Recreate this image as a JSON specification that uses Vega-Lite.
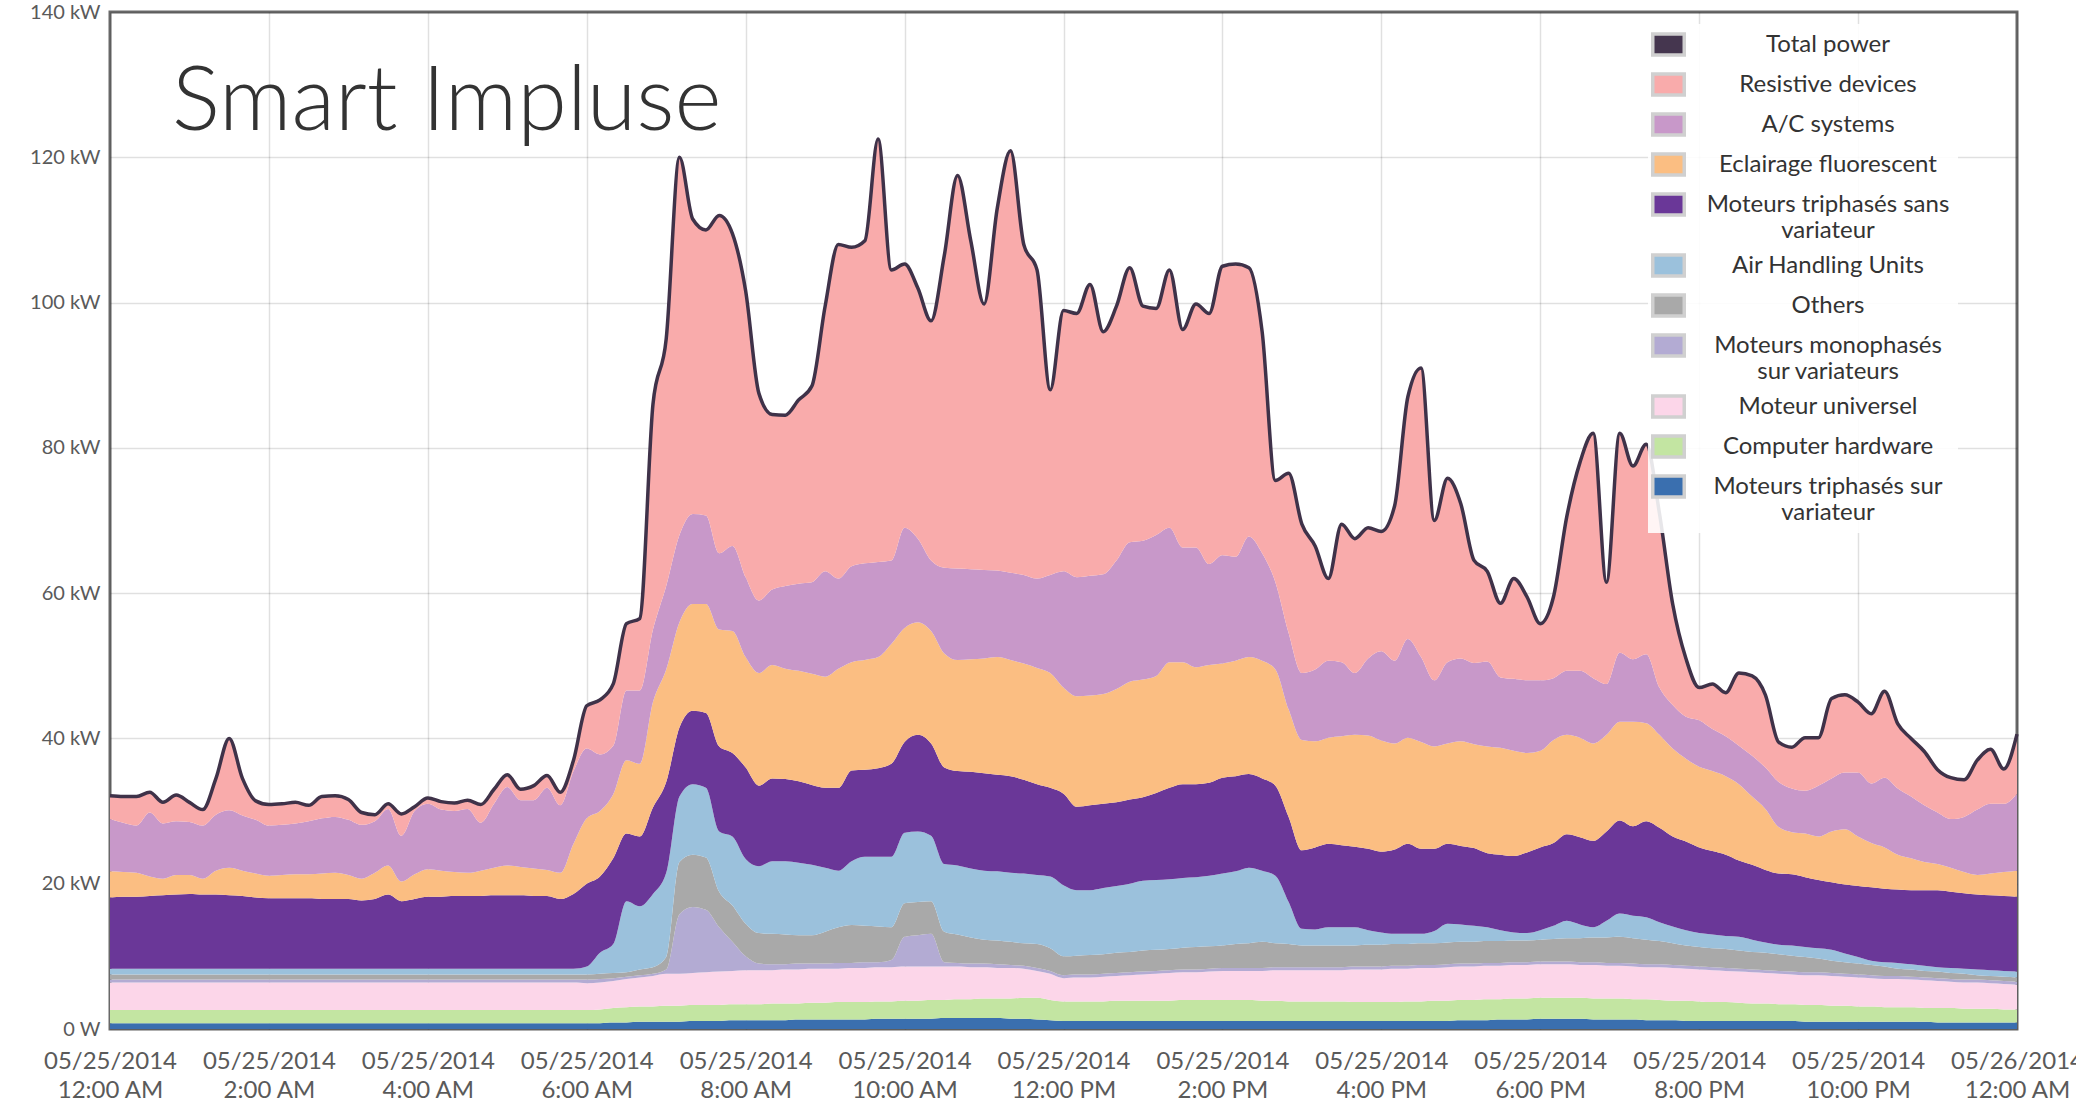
{
  "$schema": "https://vega.github.io/schema/vega-lite/v6.json",
  "width": 1907,
  "height": 1017,
  "autosize": {"type": "none"},
  "padding": {"left": 110, "top": 12, "right": 59, "bottom": 77},
  "background": "white",
  "title": {"text": "Smart Impluse", "anchor": "start", "frame": "group", "offset": 0, "baseline": "alphabetic", "dx": 62, "dy": 218, "fontSize": 90, "font": "Lato", "fontWeight": 300, "color": "#333333"},
  "datasets": {
    "series": [
      {"series": "tv", "rank": 1, "name": "Moteurs triphasés sur variateur"},
      {"series": "ch", "rank": 2, "name": "Computer hardware"},
      {"series": "mu", "rank": 3, "name": "Moteur universel"},
      {"series": "mm", "rank": 4, "name": "Moteurs monophasés sur variateurs"},
      {"series": "ot", "rank": 5, "name": "Others"},
      {"series": "ahu", "rank": 6, "name": "Air Handling Units"},
      {"series": "ts", "rank": 7, "name": "Moteurs triphasés sans variateur"},
      {"series": "ef", "rank": 8, "name": "Eclairage fluorescent"},
      {"series": "ac", "rank": 9, "name": "A/C systems"},
      {"series": "rd", "rank": 10, "name": "Resistive devices"}
    ]
  },
  "data": {"values": [
{"t":"2014-05-25T00:00","tv":0.8,"ch":1.8,"mu":3.8,"mm":0.4,"ot":0.7,"ahu":0.8,"ts":9.8,"ef":3.6,"ac":7.2,"rd":3.2,"total":32.1},
{"t":"2014-05-25T00:10","tv":0.8,"ch":1.8,"mu":3.8,"mm":0.4,"ot":0.7,"ahu":0.8,"ts":9.9,"ef":3.4,"ac":6.8,"rd":3.6,"total":32.0},
{"t":"2014-05-25T00:20","tv":0.8,"ch":1.8,"mu":3.8,"mm":0.4,"ot":0.7,"ahu":0.8,"ts":9.9,"ef":3.3,"ac":6.5,"rd":4.0,"total":32.0},
{"t":"2014-05-25T00:30","tv":0.8,"ch":1.8,"mu":3.8,"mm":0.4,"ot":0.7,"ahu":0.8,"ts":10.0,"ef":2.7,"ac":8.8,"rd":2.8,"total":32.6},
{"t":"2014-05-25T00:40","tv":0.8,"ch":1.8,"mu":3.8,"mm":0.4,"ot":0.7,"ahu":0.8,"ts":10.1,"ef":2.3,"ac":7.6,"rd":2.9,"total":31.2},
{"t":"2014-05-25T00:50","tv":0.8,"ch":1.8,"mu":3.8,"mm":0.4,"ot":0.7,"ahu":0.8,"ts":10.2,"ef":2.7,"ac":7.4,"rd":3.6,"total":32.2},
{"t":"2014-05-25T01:00","tv":0.8,"ch":1.8,"mu":3.8,"mm":0.4,"ot":0.7,"ahu":0.8,"ts":10.3,"ef":2.6,"ac":7.3,"rd":2.7,"total":31.2},
{"t":"2014-05-25T01:10","tv":0.8,"ch":1.8,"mu":3.8,"mm":0.4,"ot":0.7,"ahu":0.8,"ts":10.2,"ef":2.2,"ac":7.3,"rd":2.2,"total":30.2},
{"t":"2014-05-25T01:20","tv":0.8,"ch":1.8,"mu":3.8,"mm":0.4,"ot":0.7,"ahu":0.8,"ts":10.2,"ef":3.3,"ac":7.7,"rd":5.0,"total":34.5},
{"t":"2014-05-25T01:30","tv":0.8,"ch":1.8,"mu":3.8,"mm":0.4,"ot":0.7,"ahu":0.8,"ts":10.1,"ef":3.8,"ac":7.9,"rd":9.9,"total":40.0},
{"t":"2014-05-25T01:40","tv":0.8,"ch":1.8,"mu":3.8,"mm":0.4,"ot":0.7,"ahu":0.8,"ts":10.0,"ef":3.5,"ac":7.6,"rd":5.1,"total":34.5},
{"t":"2014-05-25T01:50","tv":0.8,"ch":1.8,"mu":3.8,"mm":0.4,"ot":0.7,"ahu":0.8,"ts":9.8,"ef":3.3,"ac":7.4,"rd":2.6,"total":31.4},
{"t":"2014-05-25T02:00","tv":0.8,"ch":1.8,"mu":3.8,"mm":0.4,"ot":0.7,"ahu":0.8,"ts":9.7,"ef":3.1,"ac":6.9,"rd":2.9,"total":30.9},
{"t":"2014-05-25T02:10","tv":0.8,"ch":1.8,"mu":3.8,"mm":0.4,"ot":0.7,"ahu":0.8,"ts":9.7,"ef":3.2,"ac":6.9,"rd":2.9,"total":31.0},
{"t":"2014-05-25T02:20","tv":0.8,"ch":1.8,"mu":3.8,"mm":0.4,"ot":0.7,"ahu":0.8,"ts":9.7,"ef":3.3,"ac":7.0,"rd":2.9,"total":31.2},
{"t":"2014-05-25T02:30","tv":0.8,"ch":1.8,"mu":3.8,"mm":0.4,"ot":0.7,"ahu":0.8,"ts":9.7,"ef":3.3,"ac":7.3,"rd":2.2,"total":30.8},
{"t":"2014-05-25T02:40","tv":0.8,"ch":1.8,"mu":3.8,"mm":0.4,"ot":0.7,"ahu":0.8,"ts":9.6,"ef":3.5,"ac":7.6,"rd":3.0,"total":32.0},
{"t":"2014-05-25T02:50","tv":0.8,"ch":1.8,"mu":3.8,"mm":0.4,"ot":0.7,"ahu":0.8,"ts":9.6,"ef":3.6,"ac":7.7,"rd":2.9,"total":32.1},
{"t":"2014-05-25T03:00","tv":0.8,"ch":1.8,"mu":3.8,"mm":0.4,"ot":0.7,"ahu":0.8,"ts":9.6,"ef":3.3,"ac":7.6,"rd":2.8,"total":31.6},
{"t":"2014-05-25T03:10","tv":0.8,"ch":1.8,"mu":3.8,"mm":0.4,"ot":0.7,"ahu":0.8,"ts":9.4,"ef":3.0,"ac":7.4,"rd":1.7,"total":29.8},
{"t":"2014-05-25T03:20","tv":0.8,"ch":1.8,"mu":3.8,"mm":0.4,"ot":0.7,"ahu":0.8,"ts":9.6,"ef":3.6,"ac":7.1,"rd":0.9,"total":29.5},
{"t":"2014-05-25T03:30","tv":0.8,"ch":1.8,"mu":3.8,"mm":0.4,"ot":0.7,"ahu":0.8,"ts":10.2,"ef":4.0,"ac":7.8,"rd":0.7,"total":31.0},
{"t":"2014-05-25T03:40","tv":0.8,"ch":1.8,"mu":3.8,"mm":0.4,"ot":0.7,"ahu":0.8,"ts":9.3,"ef":2.7,"ac":6.3,"rd":3.0,"total":29.6},
{"t":"2014-05-25T03:50","tv":0.8,"ch":1.8,"mu":3.8,"mm":0.4,"ot":0.7,"ahu":0.8,"ts":9.6,"ef":3.4,"ac":8.7,"rd":0.6,"total":30.6},
{"t":"2014-05-25T04:00","tv":0.8,"ch":1.8,"mu":3.8,"mm":0.4,"ot":0.7,"ahu":0.8,"ts":9.9,"ef":3.8,"ac":9.0,"rd":0.8,"total":31.8},
{"t":"2014-05-25T04:10","tv":0.8,"ch":1.8,"mu":3.8,"mm":0.4,"ot":0.7,"ahu":0.8,"ts":9.9,"ef":3.6,"ac":8.4,"rd":1.1,"total":31.3},
{"t":"2014-05-25T04:20","tv":0.8,"ch":1.8,"mu":3.8,"mm":0.4,"ot":0.7,"ahu":0.8,"ts":10.0,"ef":3.3,"ac":8.4,"rd":1.1,"total":31.1},
{"t":"2014-05-25T04:30","tv":0.8,"ch":1.8,"mu":3.8,"mm":0.4,"ot":0.7,"ahu":0.8,"ts":10.0,"ef":3.2,"ac":8.8,"rd":1.2,"total":31.5},
{"t":"2014-05-25T04:40","tv":0.8,"ch":1.8,"mu":3.8,"mm":0.4,"ot":0.7,"ahu":0.8,"ts":10.0,"ef":3.5,"ac":6.6,"rd":2.5,"total":30.9},
{"t":"2014-05-25T04:50","tv":0.8,"ch":1.8,"mu":3.8,"mm":0.4,"ot":0.7,"ahu":0.8,"ts":10.1,"ef":3.8,"ac":8.8,"rd":2.0,"total":33.0},
{"t":"2014-05-25T05:00","tv":0.8,"ch":1.8,"mu":3.8,"mm":0.4,"ot":0.7,"ahu":0.8,"ts":10.1,"ef":4.1,"ac":10.8,"rd":1.7,"total":35.0},
{"t":"2014-05-25T05:10","tv":0.8,"ch":1.8,"mu":3.8,"mm":0.4,"ot":0.7,"ahu":0.8,"ts":10.1,"ef":3.9,"ac":9.2,"rd":1.5,"total":33.0},
{"t":"2014-05-25T05:20","tv":0.8,"ch":1.8,"mu":3.8,"mm":0.4,"ot":0.7,"ahu":0.8,"ts":10.0,"ef":3.8,"ac":9.4,"rd":2.0,"total":33.5},
{"t":"2014-05-25T05:30","tv":0.8,"ch":1.8,"mu":3.8,"mm":0.4,"ot":0.7,"ahu":0.8,"ts":10.0,"ef":3.6,"ac":11.3,"rd":1.7,"total":34.9},
{"t":"2014-05-25T05:40","tv":0.8,"ch":1.8,"mu":3.8,"mm":0.4,"ot":0.7,"ahu":0.8,"ts":9.6,"ef":3.6,"ac":9.3,"rd":1.8,"total":32.6},
{"t":"2014-05-25T05:50","tv":0.8,"ch":1.8,"mu":3.8,"mm":0.4,"ot":0.7,"ahu":0.8,"ts":10.3,"ef":6.9,"ac":10.0,"rd":1.5,"total":37.0},
{"t":"2014-05-25T06:00","tv":0.8,"ch":1.8,"mu":3.7,"mm":0.5,"ot":0.7,"ahu":1.1,"ts":11.4,"ef":9.0,"ac":9.6,"rd":5.9,"total":44.5},
{"t":"2014-05-25T06:10","tv":0.8,"ch":1.9,"mu":3.7,"mm":0.5,"ot":0.7,"ahu":2.9,"ts":10.5,"ef":9.0,"ac":7.8,"rd":7.5,"total":45.3},
{"t":"2014-05-25T06:20","tv":0.9,"ch":2.0,"mu":3.7,"mm":0.4,"ot":0.7,"ahu":4.0,"ts":11.8,"ef":8.8,"ac":6.7,"rd":8.5,"total":47.5},
{"t":"2014-05-25T06:30","tv":0.9,"ch":2.1,"mu":3.9,"mm":0.3,"ot":0.6,"ahu":9.8,"ts":9.3,"ef":10.1,"ac":9.6,"rd":9.2,"total":55.8},
{"t":"2014-05-25T06:40","tv":1.0,"ch":2.1,"mu":4.0,"mm":0.3,"ot":0.8,"ahu":8.7,"ts":9.6,"ef":10.0,"ac":10.1,"rd":9.9,"total":56.5},
{"t":"2014-05-25T06:50","tv":1.0,"ch":2.1,"mu":4.2,"mm":0.3,"ot":0.9,"ahu":10.1,"ts":11.9,"ef":14.5,"ac":10.0,"rd":31.0,"total":86.0},
{"t":"2014-05-25T07:00","tv":1.0,"ch":2.2,"mu":4.4,"mm":0.6,"ot":1.7,"ahu":11.6,"ts":12.5,"ef":15.5,"ac":11.5,"rd":34.0,"total":95.0},
{"t":"2014-05-25T07:10","tv":1.0,"ch":2.2,"mu":4.4,"mm":8.2,"ot":7.2,"ahu":9.0,"ts":9.5,"ef":14.5,"ac":12.0,"rd":52.0,"total":120.0},
{"t":"2014-05-25T07:20","tv":1.1,"ch":2.2,"mu":4.4,"mm":9.1,"ot":7.2,"ahu":9.7,"ts":10.1,"ef":14.7,"ac":12.4,"rd":40.6,"total":111.5},
{"t":"2014-05-25T07:30","tv":1.1,"ch":2.2,"mu":4.5,"mm":8.6,"ot":7.2,"ahu":9.6,"ts":10.3,"ef":15.0,"ac":12.2,"rd":39.3,"total":110.0},
{"t":"2014-05-25T07:40","tv":1.1,"ch":2.2,"mu":4.6,"mm":6.1,"ot":4.9,"ahu":8.3,"ts":11.7,"ef":16.1,"ac":10.5,"rd":46.5,"total":112.0},
{"t":"2014-05-25T07:50","tv":1.2,"ch":2.2,"mu":4.6,"mm":4.0,"ot":5.0,"ahu":9.5,"ts":11.5,"ef":16.8,"ac":11.7,"rd":43.0,"total":109.5},
{"t":"2014-05-25T08:00","tv":1.2,"ch":2.2,"mu":4.7,"mm":1.9,"ot":4.5,"ahu":8.9,"ts":12.6,"ef":15.2,"ac":11.0,"rd":39.4,"total":101.6},
{"t":"2014-05-25T08:10","tv":1.2,"ch":2.2,"mu":4.7,"mm":0.9,"ot":4.2,"ahu":9.2,"ts":11.1,"ef":15.5,"ac":10.0,"rd":28.5,"total":87.5},
{"t":"2014-05-25T08:20","tv":1.2,"ch":2.3,"mu":4.6,"mm":0.8,"ot":4.2,"ahu":10.0,"ts":11.4,"ef":15.6,"ac":10.4,"rd":24.1,"total":84.6},
{"t":"2014-05-25T08:30","tv":1.2,"ch":2.3,"mu":4.7,"mm":0.7,"ot":4.1,"ahu":10.1,"ts":11.3,"ef":15.2,"ac":11.4,"rd":23.5,"total":84.5},
{"t":"2014-05-25T08:40","tv":1.3,"ch":2.2,"mu":4.7,"mm":0.8,"ot":3.9,"ahu":10.0,"ts":11.2,"ef":15.2,"ac":12.0,"rd":25.3,"total":86.6},
{"t":"2014-05-25T08:50","tv":1.3,"ch":2.3,"mu":4.7,"mm":0.7,"ot":3.9,"ahu":9.7,"ts":11.0,"ef":15.3,"ac":12.6,"rd":27.0,"total":88.5},
{"t":"2014-05-25T09:00","tv":1.3,"ch":2.3,"mu":4.7,"mm":0.7,"ot":4.4,"ahu":8.8,"ts":11.0,"ef":15.3,"ac":14.5,"rd":36.5,"total":99.5},
{"t":"2014-05-25T09:10","tv":1.3,"ch":2.4,"mu":4.6,"mm":0.8,"ot":4.9,"ahu":7.8,"ts":11.4,"ef":16.4,"ac":12.4,"rd":46.0,"total":108.0},
{"t":"2014-05-25T09:20","tv":1.3,"ch":2.4,"mu":4.7,"mm":0.7,"ot":5.2,"ahu":8.8,"ts":12.5,"ef":14.9,"ac":13.2,"rd":43.9,"total":107.6},
{"t":"2014-05-25T09:30","tv":1.3,"ch":2.4,"mu":4.7,"mm":0.8,"ot":5.0,"ahu":9.5,"ts":12.0,"ef":15.1,"ac":13.3,"rd":44.4,"total":108.5},
{"t":"2014-05-25T09:40","tv":1.4,"ch":2.4,"mu":4.7,"mm":0.7,"ot":4.9,"ahu":9.6,"ts":12.2,"ef":15.3,"ac":13.1,"rd":58.2,"total":122.5},
{"t":"2014-05-25T09:50","tv":1.4,"ch":2.4,"mu":4.7,"mm":1.0,"ot":4.5,"ahu":9.7,"ts":12.8,"ef":16.5,"ac":11.5,"rd":40.0,"total":104.5},
{"t":"2014-05-25T10:00","tv":1.4,"ch":2.5,"mu":4.7,"mm":4.1,"ot":4.6,"ahu":9.7,"ts":12.5,"ef":15.7,"ac":13.8,"rd":36.3,"total":105.3},
{"t":"2014-05-25T10:10","tv":1.4,"ch":2.5,"mu":4.7,"mm":4.3,"ot":4.6,"ahu":9.7,"ts":13.3,"ef":15.5,"ac":11.5,"rd":34.5,"total":102.0},
{"t":"2014-05-25T10:20","tv":1.4,"ch":2.6,"mu":4.6,"mm":4.5,"ot":4.5,"ahu":9.0,"ts":12.7,"ef":15.5,"ac":9.7,"rd":33.0,"total":97.5},
{"t":"2014-05-25T10:30","tv":1.5,"ch":2.5,"mu":4.6,"mm":0.6,"ot":4.2,"ahu":9.3,"ts":13.3,"ef":15.7,"ac":11.8,"rd":43.0,"total":106.5},
{"t":"2014-05-25T10:40","tv":1.5,"ch":2.6,"mu":4.5,"mm":0.5,"ot":3.9,"ahu":9.5,"ts":13.0,"ef":15.3,"ac":12.6,"rd":54.1,"total":117.5},
{"t":"2014-05-25T10:50","tv":1.5,"ch":2.6,"mu":4.4,"mm":0.5,"ot":3.6,"ahu":9.5,"ts":13.3,"ef":15.5,"ac":12.4,"rd":45.2,"total":108.5},
{"t":"2014-05-25T11:00","tv":1.5,"ch":2.7,"mu":4.3,"mm":0.5,"ot":3.3,"ahu":9.5,"ts":13.4,"ef":15.8,"ac":12.2,"rd":36.6,"total":99.8},
{"t":"2014-05-25T11:10","tv":1.5,"ch":2.7,"mu":4.2,"mm":0.5,"ot":3.3,"ahu":9.5,"ts":13.3,"ef":16.2,"ac":11.9,"rd":49.9,"total":113.0},
{"t":"2014-05-25T11:20","tv":1.4,"ch":2.8,"mu":4.2,"mm":0.4,"ot":3.2,"ahu":9.5,"ts":13.3,"ef":16.0,"ac":12.0,"rd":58.1,"total":120.9},
{"t":"2014-05-25T11:30","tv":1.4,"ch":2.9,"mu":4.0,"mm":0.4,"ot":3.1,"ahu":9.6,"ts":12.9,"ef":16.0,"ac":12.2,"rd":45.5,"total":108.0},
{"t":"2014-05-25T11:40","tv":1.3,"ch":3.0,"mu":3.7,"mm":0.4,"ot":3.3,"ahu":9.5,"ts":12.5,"ef":16.0,"ac":12.3,"rd":42.5,"total":104.5},
{"t":"2014-05-25T11:50","tv":1.2,"ch":2.8,"mu":3.6,"mm":0.4,"ot":3.1,"ahu":9.9,"ts":12.2,"ef":15.8,"ac":13.5,"rd":25.5,"total":88.0},
{"t":"2014-05-25T12:00","tv":1.1,"ch":2.7,"mu":3.2,"mm":0.4,"ot":2.6,"ahu":9.8,"ts":12.6,"ef":14.6,"ac":16.0,"rd":35.9,"total":98.9},
{"t":"2014-05-25T12:10","tv":1.1,"ch":2.7,"mu":3.3,"mm":0.4,"ot":2.6,"ahu":9.0,"ts":11.5,"ef":15.2,"ac":16.4,"rd":36.3,"total":98.5},
{"t":"2014-05-25T12:20","tv":1.1,"ch":2.7,"mu":3.3,"mm":0.4,"ot":2.7,"ahu":8.9,"ts":11.7,"ef":15.1,"ac":16.5,"rd":40.1,"total":102.5},
{"t":"2014-05-25T12:30","tv":1.1,"ch":2.7,"mu":3.4,"mm":0.4,"ot":2.7,"ahu":9.1,"ts":11.6,"ef":15.1,"ac":16.5,"rd":33.4,"total":96.0},
{"t":"2014-05-25T12:40","tv":1.1,"ch":2.8,"mu":3.4,"mm":0.4,"ot":2.8,"ahu":9.2,"ts":11.5,"ef":15.6,"ac":17.7,"rd":35.0,"total":99.5},
{"t":"2014-05-25T12:50","tv":1.1,"ch":2.8,"mu":3.5,"mm":0.4,"ot":2.8,"ahu":9.4,"ts":11.6,"ef":16.2,"ac":19.2,"rd":37.8,"total":104.8},
{"t":"2014-05-25T13:00","tv":1.1,"ch":2.8,"mu":3.6,"mm":0.4,"ot":2.9,"ahu":9.6,"ts":11.5,"ef":16.2,"ac":19.1,"rd":32.3,"total":99.5},
{"t":"2014-05-25T13:10","tv":1.1,"ch":2.8,"mu":3.7,"mm":0.4,"ot":2.9,"ahu":9.6,"ts":12.0,"ef":16.1,"ac":19.4,"rd":31.2,"total":99.2},
{"t":"2014-05-25T13:20","tv":1.1,"ch":2.8,"mu":3.8,"mm":0.4,"ot":2.9,"ahu":9.6,"ts":12.6,"ef":17.3,"ac":18.5,"rd":35.5,"total":104.5},
{"t":"2014-05-25T13:30","tv":1.1,"ch":2.9,"mu":3.8,"mm":0.4,"ot":3.0,"ahu":9.6,"ts":12.9,"ef":16.8,"ac":15.8,"rd":30.0,"total":96.3},
{"t":"2014-05-25T13:40","tv":1.1,"ch":2.9,"mu":3.8,"mm":0.4,"ot":3.1,"ahu":9.6,"ts":12.8,"ef":16.1,"ac":16.5,"rd":33.5,"total":99.8},
{"t":"2014-05-25T13:50","tv":1.1,"ch":2.9,"mu":3.9,"mm":0.4,"ot":3.1,"ahu":9.7,"ts":12.8,"ef":16.2,"ac":13.9,"rd":34.5,"total":98.5},
{"t":"2014-05-25T14:00","tv":1.1,"ch":2.9,"mu":4.0,"mm":0.4,"ot":3.1,"ahu":9.9,"ts":13.2,"ef":15.7,"ac":14.9,"rd":39.8,"total":105.0},
{"t":"2014-05-25T14:10","tv":1.1,"ch":2.9,"mu":4.0,"mm":0.4,"ot":3.3,"ahu":10.0,"ts":13.1,"ef":15.9,"ac":14.3,"rd":40.3,"total":105.3},
{"t":"2014-05-25T14:20","tv":1.1,"ch":2.9,"mu":4.0,"mm":0.4,"ot":3.4,"ahu":10.4,"ts":12.9,"ef":16.1,"ac":16.6,"rd":37.0,"total":104.8},
{"t":"2014-05-25T14:30","tv":1.1,"ch":2.8,"mu":4.1,"mm":0.4,"ot":3.6,"ahu":9.8,"ts":12.7,"ef":16.2,"ac":14.8,"rd":30.5,"total":96.0},
{"t":"2014-05-25T14:40","tv":1.1,"ch":2.8,"mu":4.2,"mm":0.4,"ot":3.3,"ahu":9.3,"ts":12.4,"ef":16.0,"ac":12.0,"rd":14.0,"total":75.5},
{"t":"2014-05-25T14:50","tv":1.1,"ch":2.7,"mu":4.3,"mm":0.4,"ot":3.2,"ahu":5.8,"ts":11.7,"ef":14.8,"ac":10.5,"rd":22.0,"total":76.5},
{"t":"2014-05-25T15:00","tv":1.1,"ch":2.7,"mu":4.3,"mm":0.4,"ot":3.0,"ahu":2.3,"ts":10.8,"ef":15.2,"ac":9.2,"rd":20.5,"total":69.5},
{"t":"2014-05-25T15:10","tv":1.1,"ch":2.7,"mu":4.3,"mm":0.4,"ot":3.0,"ahu":2.2,"ts":11.3,"ef":14.6,"ac":9.9,"rd":17.0,"total":66.5},
{"t":"2014-05-25T15:20","tv":1.1,"ch":2.7,"mu":4.3,"mm":0.4,"ot":3.0,"ahu":2.5,"ts":11.5,"ef":14.6,"ac":10.6,"rd":11.3,"total":62.0},
{"t":"2014-05-25T15:30","tv":1.1,"ch":2.7,"mu":4.3,"mm":0.4,"ot":3.0,"ahu":2.5,"ts":11.3,"ef":15.0,"ac":10.2,"rd":19.0,"total":69.5},
{"t":"2014-05-25T15:40","tv":1.1,"ch":2.6,"mu":4.5,"mm":0.4,"ot":2.9,"ahu":2.5,"ts":11.1,"ef":15.4,"ac":8.5,"rd":18.5,"total":67.5},
{"t":"2014-05-25T15:50","tv":1.1,"ch":2.6,"mu":4.5,"mm":0.4,"ot":3.0,"ahu":2.0,"ts":11.2,"ef":15.6,"ac":10.6,"rd":18.0,"total":69.0},
{"t":"2014-05-25T16:00","tv":1.1,"ch":2.6,"mu":4.5,"mm":0.4,"ot":3.0,"ahu":1.7,"ts":11.1,"ef":15.3,"ac":12.3,"rd":16.5,"total":68.5},
{"t":"2014-05-25T16:10","tv":1.1,"ch":2.6,"mu":4.6,"mm":0.4,"ot":3.0,"ahu":1.4,"ts":11.6,"ef":14.6,"ac":11.4,"rd":21.3,"total":72.0},
{"t":"2014-05-25T16:20","tv":1.1,"ch":2.7,"mu":4.5,"mm":0.4,"ot":3.0,"ahu":1.4,"ts":12.4,"ef":14.6,"ac":13.6,"rd":33.3,"total":87.0},
{"t":"2014-05-25T16:30","tv":1.1,"ch":2.7,"mu":4.6,"mm":0.4,"ot":3.0,"ahu":1.3,"ts":11.7,"ef":14.7,"ac":11.7,"rd":39.8,"total":91.0},
{"t":"2014-05-25T16:40","tv":1.1,"ch":2.8,"mu":4.5,"mm":0.4,"ot":3.0,"ahu":1.7,"ts":11.3,"ef":14.1,"ac":9.1,"rd":22.0,"total":70.0},
{"t":"2014-05-25T16:50","tv":1.1,"ch":2.8,"mu":4.6,"mm":0.4,"ot":3.0,"ahu":2.6,"ts":11.0,"ef":13.8,"ac":11.2,"rd":25.3,"total":75.8},
{"t":"2014-05-25T17:00","tv":1.2,"ch":2.8,"mu":4.6,"mm":0.4,"ot":3.0,"ahu":2.4,"ts":10.8,"ef":14.4,"ac":11.4,"rd":21.3,"total":72.3},
{"t":"2014-05-25T17:10","tv":1.2,"ch":2.8,"mu":4.6,"mm":0.4,"ot":3.0,"ahu":2.2,"ts":10.7,"ef":14.3,"ac":11.2,"rd":14.1,"total":64.5},
{"t":"2014-05-25T17:20","tv":1.2,"ch":2.9,"mu":4.6,"mm":0.4,"ot":3.0,"ahu":1.9,"ts":10.2,"ef":14.7,"ac":11.7,"rd":12.4,"total":63.0},
{"t":"2014-05-25T17:30","tv":1.3,"ch":2.8,"mu":4.6,"mm":0.4,"ot":3.0,"ahu":1.5,"ts":10.4,"ef":14.7,"ac":9.7,"rd":10.2,"total":58.6},
{"t":"2014-05-25T17:40","tv":1.3,"ch":2.9,"mu":4.6,"mm":0.4,"ot":3.0,"ahu":1.1,"ts":10.5,"ef":14.5,"ac":9.9,"rd":13.8,"total":62.0},
{"t":"2014-05-25T17:50","tv":1.3,"ch":2.9,"mu":4.6,"mm":0.4,"ot":3.0,"ahu":1.0,"ts":11.1,"ef":13.7,"ac":10.0,"rd":11.5,"total":59.5},
{"t":"2014-05-25T18:00","tv":1.4,"ch":2.9,"mu":4.6,"mm":0.4,"ot":3.0,"ahu":1.3,"ts":11.4,"ef":13.3,"ac":9.7,"rd":7.8,"total":55.8},
{"t":"2014-05-25T18:10","tv":1.4,"ch":2.9,"mu":4.6,"mm":0.4,"ot":3.1,"ahu":1.8,"ts":11.4,"ef":14.2,"ac":8.5,"rd":11.2,"total":59.5},
{"t":"2014-05-25T18:20","tv":1.4,"ch":2.9,"mu":4.6,"mm":0.4,"ot":3.2,"ahu":2.4,"ts":11.9,"ef":13.7,"ac":8.8,"rd":21.2,"total":70.5},
{"t":"2014-05-25T18:30","tv":1.4,"ch":2.9,"mu":4.5,"mm":0.4,"ot":3.3,"ahu":1.9,"ts":12.0,"ef":13.7,"ac":9.2,"rd":28.7,"total":78.0},
{"t":"2014-05-25T18:40","tv":1.3,"ch":2.9,"mu":4.6,"mm":0.4,"ot":3.4,"ahu":1.4,"ts":11.9,"ef":13.4,"ac":9.0,"rd":33.7,"total":82.0},
{"t":"2014-05-25T18:50","tv":1.3,"ch":2.9,"mu":4.5,"mm":0.4,"ot":3.5,"ahu":2.3,"ts":12.3,"ef":13.3,"ac":7.0,"rd":14.0,"total":61.5},
{"t":"2014-05-25T19:00","tv":1.3,"ch":2.9,"mu":4.5,"mm":0.4,"ot":3.6,"ahu":3.2,"ts":12.8,"ef":13.6,"ac":9.5,"rd":30.2,"total":82.0},
{"t":"2014-05-25T19:10","tv":1.3,"ch":2.8,"mu":4.5,"mm":0.4,"ot":3.5,"ahu":3.1,"ts":12.3,"ef":14.4,"ac":8.6,"rd":26.6,"total":77.5},
{"t":"2014-05-25T19:20","tv":1.2,"ch":2.9,"mu":4.4,"mm":0.4,"ot":3.4,"ahu":3.1,"ts":13.2,"ef":13.5,"ac":9.5,"rd":28.9,"total":80.5},
{"t":"2014-05-25T19:30","tv":1.2,"ch":2.8,"mu":4.5,"mm":0.4,"ot":3.2,"ahu":2.6,"ts":13.0,"ef":12.8,"ac":6.5,"rd":24.0,"total":71.0},
{"t":"2014-05-25T19:40","tv":1.2,"ch":2.7,"mu":4.5,"mm":0.4,"ot":3.0,"ahu":2.3,"ts":12.4,"ef":12.1,"ac":6.0,"rd":13.9,"total":58.5},
{"t":"2014-05-25T19:50","tv":1.1,"ch":2.8,"mu":4.4,"mm":0.4,"ot":2.8,"ahu":2.1,"ts":12.2,"ef":11.4,"ac":5.8,"rd":8.0,"total":51.0},
{"t":"2014-05-25T20:00","tv":1.1,"ch":2.7,"mu":4.4,"mm":0.4,"ot":2.7,"ahu":1.9,"ts":11.8,"ef":11.1,"ac":6.4,"rd":4.5,"total":47.0},
{"t":"2014-05-25T20:10","tv":1.1,"ch":2.6,"mu":4.4,"mm":0.4,"ot":2.6,"ahu":1.9,"ts":11.5,"ef":11.0,"ac":5.8,"rd":6.2,"total":47.5},
{"t":"2014-05-25T20:20","tv":1.1,"ch":2.6,"mu":4.3,"mm":0.4,"ot":2.6,"ahu":1.8,"ts":11.2,"ef":10.8,"ac":5.5,"rd":6.0,"total":46.3},
{"t":"2014-05-25T20:30","tv":1.1,"ch":2.5,"mu":4.3,"mm":0.4,"ot":2.5,"ahu":1.9,"ts":10.5,"ef":10.5,"ac":5.3,"rd":10.0,"total":49.0},
{"t":"2014-05-25T20:40","tv":1.1,"ch":2.4,"mu":4.3,"mm":0.4,"ot":2.4,"ahu":1.7,"ts":10.3,"ef":9.4,"ac":5.6,"rd":11.0,"total":48.6},
{"t":"2014-05-25T20:50","tv":1.1,"ch":2.4,"mu":4.2,"mm":0.4,"ot":2.4,"ahu":1.4,"ts":10.0,"ef":8.4,"ac":5.7,"rd":10.0,"total":46.0},
{"t":"2014-05-25T21:00","tv":1.1,"ch":2.3,"mu":4.2,"mm":0.4,"ot":2.3,"ahu":1.3,"ts":9.8,"ef":6.4,"ac":6.2,"rd":5.5,"total":39.5},
{"t":"2014-05-25T21:10","tv":1.1,"ch":2.3,"mu":4.1,"mm":0.4,"ot":2.2,"ahu":1.4,"ts":9.8,"ef":5.8,"ac":6.0,"rd":5.7,"total":38.8},
{"t":"2014-05-25T21:20","tv":1.0,"ch":2.3,"mu":4.1,"mm":0.4,"ot":2.1,"ahu":1.4,"ts":9.6,"ef":6.0,"ac":5.9,"rd":7.3,"total":40.1},
{"t":"2014-05-25T21:30","tv":1.0,"ch":2.3,"mu":4.1,"mm":0.4,"ot":1.9,"ahu":1.4,"ts":9.4,"ef":6.0,"ac":7.0,"rd":6.6,"total":40.1},
{"t":"2014-05-25T21:40","tv":1.0,"ch":2.2,"mu":4.1,"mm":0.4,"ot":1.7,"ahu":1.5,"ts":9.3,"ef":7.0,"ac":7.3,"rd":11.0,"total":45.5},
{"t":"2014-05-25T21:50","tv":1.0,"ch":2.2,"mu":4.0,"mm":0.4,"ot":1.6,"ahu":1.2,"ts":9.5,"ef":7.6,"ac":7.8,"rd":10.7,"total":46.0},
{"t":"2014-05-25T22:00","tv":1.0,"ch":2.1,"mu":4.0,"mm":0.4,"ot":1.5,"ahu":0.9,"ts":9.8,"ef":6.8,"ac":8.8,"rd":9.7,"total":45.0},
{"t":"2014-05-25T22:10","tv":1.0,"ch":2.1,"mu":3.9,"mm":0.4,"ot":1.4,"ahu":0.6,"ts":10.1,"ef":6.1,"ac":8.2,"rd":9.6,"total":43.4},
{"t":"2014-05-25T22:20","tv":1.0,"ch":2.0,"mu":3.9,"mm":0.4,"ot":1.3,"ahu":0.6,"ts":10.1,"ef":5.7,"ac":9.6,"rd":11.9,"total":46.5},
{"t":"2014-05-25T22:30","tv":1.0,"ch":2.0,"mu":3.9,"mm":0.4,"ot":1.0,"ahu":0.8,"ts":10.1,"ef":4.8,"ac":9.1,"rd":8.9,"total":42.0},
{"t":"2014-05-25T22:40","tv":1.0,"ch":2.0,"mu":3.8,"mm":0.4,"ot":1.0,"ahu":0.7,"ts":10.2,"ef":4.4,"ac":8.5,"rd":8.0,"total":40.0},
{"t":"2014-05-25T22:50","tv":1.0,"ch":1.9,"mu":3.8,"mm":0.4,"ot":0.9,"ahu":0.7,"ts":10.4,"ef":3.9,"ac":7.8,"rd":7.4,"total":38.2},
{"t":"2014-05-25T23:00","tv":0.9,"ch":2.0,"mu":3.7,"mm":0.4,"ot":0.9,"ahu":0.6,"ts":10.6,"ef":3.6,"ac":7.1,"rd":5.9,"total":35.7},
{"t":"2014-05-25T23:10","tv":0.9,"ch":2.0,"mu":3.6,"mm":0.4,"ot":0.8,"ahu":0.7,"ts":10.5,"ef":3.3,"ac":6.7,"rd":5.7,"total":34.6},
{"t":"2014-05-25T23:20","tv":0.9,"ch":1.9,"mu":3.6,"mm":0.4,"ot":0.8,"ahu":0.7,"ts":10.4,"ef":2.9,"ac":7.6,"rd":5.1,"total":34.3},
{"t":"2014-05-25T23:30","tv":0.9,"ch":1.9,"mu":3.6,"mm":0.4,"ot":0.6,"ahu":0.8,"ts":10.3,"ef":2.7,"ac":9.0,"rd":6.8,"total":37.0},
{"t":"2014-05-25T23:40","tv":0.9,"ch":1.9,"mu":3.5,"mm":0.4,"ot":0.6,"ahu":0.8,"ts":10.3,"ef":3.0,"ac":9.6,"rd":7.5,"total":38.5},
{"t":"2014-05-25T23:50","tv":0.9,"ch":1.8,"mu":3.5,"mm":0.4,"ot":0.6,"ahu":0.8,"ts":10.3,"ef":3.3,"ac":9.4,"rd":4.8,"total":35.8},
{"t":"2014-05-26T00:00","tv":0.9,"ch":1.8,"mu":3.4,"mm":0.4,"ot":0.6,"ahu":0.8,"ts":10.3,"ef":3.6,"ac":10.6,"rd":8.2,"total":40.6}
  ]},
  "resolve": {"axis": {"x": "independent"}},
  "layer": [
    {
      "transform": [
        {"fold": ["tv", "ch", "mu", "mm", "ot", "ahu", "ts", "ef", "ac", "rd"], "as": ["series", "kW"]},
        {"lookup": "series", "from": {"data": {"name": "series"}, "key": "series", "fields": ["rank", "name"]}}
      ],
      "mark": {"type": "area", "interpolate": "monotone", "opacity": 1},
      "encoding": {
        "x": {"field": "t", "type": "temporal", "scale": {"nice": false},
              "axis": {"title": null, "orient": "bottom", "format": "%m/%d/%Y", "labelFontSize": 24, "labelPadding": 20, "labelFlush": false, "grid": true, "gridOpacity": 0.12,
                       "values": [1400976000000, 1400983200000, 1400990400000, 1400997600000, 1401004800000, 1401012000000, 1401019200000, 1401026400000, 1401033600000, 1401040800000, 1401048000000, 1401055200000, 1401062400000]}},
        "y": {"field": "kW", "type": "quantitative", "stack": "zero",
              "scale": {"domain": [0, 140], "nice": false},
              "axis": {"title": null, "values": [0, 20, 40, 60, 80, 100, 120, 140], "labelExpr": "datum.value === 0 ? '0 W' : datum.value + ' kW'", "labelFontSize": 20, "labelPadding": 10}},
        "color": {"field": "name", "type": "nominal",
                  "scale": {"domain": ["Total power", "Resistive devices", "A/C systems", "Eclairage fluorescent", "Moteurs triphasés sans variateur", "Air Handling Units", "Others", "Moteurs monophasés sur variateurs", "Moteur universel", "Computer hardware", "Moteurs triphasés sur variateur"],
                            "range": ["#45364f", "#f9abab", "#c898c9", "#fbbe82", "#6a3798", "#9bc1dc", "#a9a9a9", "#b3abd3", "#fcd6e9", "#c3e5a2", "#3a6faf"]},
                  "legend": {"title": null, "orient": "none", "legendX": 1538, "legendY": 12,
                             "symbolType": "M-1.5,-1H1.5V1H-1.5Z", "symbolSize": 441, "symbolStrokeColor": "#d0d0d0", "symbolStrokeWidth": 3.5, "symbolOpacity": 1,
                             "labelFont": "Lato", "labelFontSize": 24, "labelColor": "#333333", "labelAlign": "center", "labelOffset": 147, "labelLimit": 400,
                             "rowPadding": 5, "padding": 8, "fillColor": "rgba(255,255,255,0.88)",
                             "labelExpr": "datum.label == 'Moteurs triphasés sans variateur' ? ['Moteurs triphasés sans', 'variateur'] : datum.label == 'Moteurs monophasés sur variateurs' ? ['Moteurs monophasés', 'sur variateurs'] : datum.label == 'Moteurs triphasés sur variateur' ? ['Moteurs triphasés sur', 'variateur'] : datum.label"}},
        "order": {"field": "rank", "type": "quantitative"}
      }
    },
    {
      "mark": {"type": "line", "interpolate": "monotone", "color": "#3f3249", "strokeWidth": 3.5},
      "encoding": {
        "x": {"field": "t", "type": "temporal", "scale": {"nice": false},
              "axis": {"title": null, "orient": "bottom", "offset": 29, "format": "%-I:%M %p", "labelFontSize": 24, "labelPadding": 20, "labelFlush": false, "grid": false,
                       "values": [1400976000000, 1400983200000, 1400990400000, 1400997600000, 1401004800000, 1401012000000, 1401019200000, 1401026400000, 1401033600000, 1401040800000, 1401048000000, 1401055200000, 1401062400000]}},
        "y": {"field": "total", "type": "quantitative", "scale": {"domain": [0, 140], "nice": false}}
      }
    }
  ],
  "config": {
    "view": {"stroke": "#6b6b6b", "strokeWidth": 3},
    "axis": {"domain": false, "ticks": false, "grid": true, "gridColor": "#000000", "gridOpacity": 0.12, "gridWidth": 1.5, "labelFont": "Lato", "labelColor": "#5a5a5a", "zindex": 1}
  }
}
